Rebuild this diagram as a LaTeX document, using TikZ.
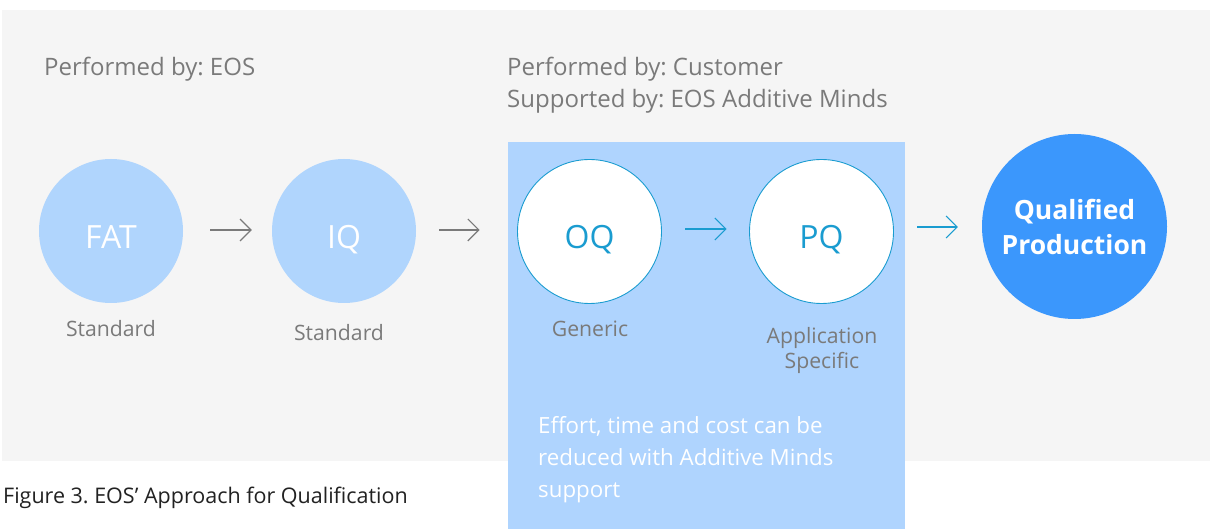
\documentclass[tikz,border=0pt]{standalone}
\usepackage{fontspec}
\setmainfont{Open Sans}
\usetikzlibrary{arrows.meta}
\definecolor{bggray}{HTML}{F5F5F5}
\definecolor{boxblue}{HTML}{AFD4FE}
\definecolor{lightcirc}{HTML}{B0D5FD}
\definecolor{ringblue}{HTML}{1A9CD0}
\definecolor{qblue}{HTML}{3B97FC}
\definecolor{txtgray}{HTML}{7A7A7A}
\definecolor{captxt}{HTML}{222222}
\frenchspacing
\tikzset{
  lightnode/.style={circle, fill=lightcirc, inner sep=0pt, minimum size=144pt, text=white, text height=35pt, text depth=0pt, font=\fontsize{32}{32}\selectfont},
  ringnode/.style={circle, fill=white, draw=ringblue, line width=0.9pt, inner sep=0pt, minimum size=144pt, text=ringblue, text height=35pt, text depth=0pt, font=\fontsize{32}{32}\selectfont},
  qnode/.style={circle, fill=qblue, inner sep=0pt, minimum size=185pt, text=white, align=center, font=\fontsize{26.5}{35}\selectfont\bfseries},
  graylbl/.style={text=txtgray, inner sep=0pt, font=\fontsize{21.2}{25}\selectfont},
  headlbl/.style={text=txtgray, inner sep=0pt, anchor=base west, font=\fontsize{24}{32}\selectfont},
  grayarrow/.style={draw=txtgray, line width=1.1pt, -{Straight Barb[length=11pt, width=22pt]}},
  bluearrow/.style={draw=ringblue, line width=1.1pt, -{Straight Barb[length=11pt, width=22pt]}}
}
\begin{document}
\begin{tikzpicture}[x=1pt, y=-1pt]
\useasboundingbox (0,0) rectangle (1210,529);
\fill[white] (0,0) rectangle (1210,529);
\fill[bggray] (2,10) rectangle (1210,461);
\fill[boxblue] (508,142) rectangle (905,529);

\node[headlbl] (h1) at (44,76) {Performed by: EOS};
\node[headlbl] (h2) at (507,76) {Performed by: Customer};
\node[headlbl] (h3) at (507,108) {Supported by: EOS Additive Minds};

\node[lightnode] (fat) at (111,231) {FAT};
\node[lightnode] (iq) at (344,231) {IQ};
\node[ringnode] (oq) at (589.5,231.5) {OQ};
\node[ringnode] (pq) at (821.5,231.5) {PQ};
\node[qnode] (qp) at (1074.5,226.5) {Qualified\\Production};

\draw[grayarrow] ([xshift=27pt,yshift=1pt]fat.east) -- ([xshift=-20pt,yshift=1pt]iq.west);
\draw[grayarrow] ([xshift=23pt,yshift=1pt]iq.east) -- ([xshift=-37.5pt,yshift=1.5pt]oq.west);
\draw[bluearrow] ([xshift=23.5pt,yshift=2.5pt]oq.east) -- ([xshift=-22.5pt,yshift=2.5pt]pq.west);
\draw[bluearrow] ([xshift=23.5pt,yshift=4.5pt]pq.east) -- ([xshift=-24pt,yshift=-0.5pt]qp.west);

\node[graylbl, anchor=base] (s1) at (111,337) {Standard};
\node[graylbl, anchor=base] (s2) at (339,340) {Standard};
\node[graylbl, anchor=base] (g1) at (590,337) {Generic};
\node[graylbl, anchor=base, align=center] (a1) at (822,368) {Application\\Specific};

\node[text=white, inner sep=0pt, anchor=base west, align=left, font=\fontsize{22.3}{32}\selectfont] (eff) at (538,497) {Effort, time and cost can be\\reduced with Additive Minds\\support};

\node[text=captxt, inner sep=0pt, anchor=base west, font=\fontsize{21.5}{26}\selectfont] (cap) at (3,503) {Figure 3. EOS’ Approach for Qualification};
\end{tikzpicture}
\end{document}
